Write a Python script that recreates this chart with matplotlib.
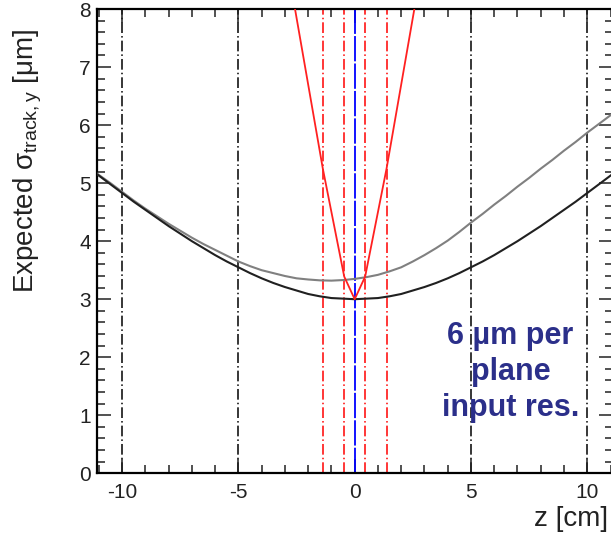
import numpy as np
import matplotlib.pyplot as plt
from matplotlib.ticker import MultipleLocator

plt.rcParams['axes.unicode_minus'] = False
plt.rcParams['mathtext.fontset'] = 'custom'
plt.rcParams['mathtext.rm'] = 'Liberation Sans'
plt.rcParams['mathtext.it'] = 'Liberation Sans'
plt.rcParams['mathtext.bf'] = 'Liberation Sans:bold'

# black curve: expected resolution
z_black = [-11.1, -10.5, -10, -9.5, -9, -8.5, -8, -7.5, -7, -6.5, -6, -5.5, -5, -4.5,
           -4, -3.5, -3, -2.5, -2, -1.5, -1, -0.5, 0, 0.5, 1, 1.5, 2, 2.5, 3, 3.5,
           4, 4.5, 5, 5.5, 6, 6.5, 7, 7.5, 8, 8.5, 9, 9.5, 10, 10.5, 11.1]
sig_black = [5.16, 4.98, 4.83, 4.68, 4.54, 4.40, 4.26, 4.13, 4.00, 3.88, 3.76, 3.65, 3.55, 3.45,
             3.36, 3.28, 3.21, 3.15, 3.09, 3.05, 3.02, 3.01, 3.00, 3.01, 3.02, 3.05, 3.09, 3.15, 3.21, 3.28,
             3.36, 3.45, 3.55, 3.65, 3.76, 3.88, 4.00, 4.13, 4.26, 4.40, 4.54, 4.68, 4.83, 4.98, 5.16]

# gray curve
z_gray = [-11.1, -10.5, -10, -9.5, -9, -8.5, -8, -7.5, -7, -6.5, -6, -5.5, -5, -4.5,
          -4, -3.5, -3, -2.5, -2, -1.5, -1, -0.5, 0, 0.5, 1, 1.5, 2, 2.5, 3, 3.5,
          4, 4.5, 5, 5.5, 6, 6.5, 7, 7.5, 8, 8.5, 9, 9.5, 10, 10.5, 11.1]
sig_gray = [5.17, 5.00, 4.85, 4.70, 4.56, 4.43, 4.30, 4.18, 4.06, 3.95, 3.85, 3.75, 3.65, 3.57,
            3.50, 3.45, 3.40, 3.36, 3.34, 3.325, 3.32, 3.33, 3.35, 3.38, 3.42, 3.48, 3.55, 3.65, 3.76, 3.88,
            4.01, 4.16, 4.32, 4.47, 4.63, 4.78, 4.94, 5.09, 5.25, 5.40, 5.56, 5.71, 5.87, 6.02, 6.20]

# red curve
z_red = [-3.0, -1.37, -0.45, 0.0, 0.45, 1.37, 3.0]
sig_red = [9.0, 5.25, 3.39, 3.00, 3.39, 5.25, 9.0]

black_lines = [-10, -5, 5, 10]
red_lines = [-1.37, -0.45, 0.45, 1.37]
blue_line = 0

fig = plt.figure(figsize=(6.11, 5.33), dpi=100)
ax = fig.add_axes([0.158, 0.112, 0.845, 0.871])

for x in black_lines:
    ax.axvline(x, color='black', lw=1.1, ls=(0, (7, 2, 1, 2)), zorder=1)
for x in red_lines:
    ax.axvline(x, color='red', lw=1.1, ls=(0, (7, 2, 1, 2)), zorder=1)
ax.axvline(blue_line, color='blue', lw=1.3, ls=(0, (14, 1.2)), zorder=2)

ax.plot(z_gray, sig_gray, color='#808080', lw=1.5, zorder=3)
ax.plot(z_black, sig_black, color='#202020', lw=1.5, zorder=3)
ax.plot(z_red, sig_red, color='#ff2020', lw=1.3, zorder=4)

ax.set_xlim(-11.1, 11.1)
ax.set_ylim(0, 8)
ax.xaxis.set_major_locator(MultipleLocator(5))
ax.xaxis.set_minor_locator(MultipleLocator(1))
ax.yaxis.set_major_locator(MultipleLocator(1))
ax.yaxis.set_minor_locator(MultipleLocator(0.2))
ax.tick_params(which='both', direction='in', top=True, right=True, width=1.1,
               labelsize=15, colors='#222222')
ax.tick_params(axis='x', which='major', length=10, pad=7)
ax.tick_params(axis='y', which='major', length=10, pad=4)
ax.tick_params(which='minor', length=6)
for s in ax.spines.values():
    s.set_linewidth(1.6)

fontname = 'Liberation Sans'
for lab in ax.get_xticklabels() + ax.get_yticklabels():
    lab.set_fontname(fontname)

fig.text(0.045, 0.945, r'Expected $\sigma_{\mathrm{track,y}}$ [$\mathrm{\mu}$m]', rotation=90,
         ha='center', va='top', fontsize=20, fontname=fontname, color='#222222')
fig.text(0.995, 0.002, 'z [cm]', ha='right', va='bottom', fontsize=20, fontname=fontname,
         color='#222222')

ax.text(6.7, 1.75, '6 \u00b5m per\nplane\ninput res.', ha='center', va='center',
        fontsize=22, fontweight='bold', color='#2b2f8a', fontname=fontname,
        linespacing=1.25)

fig.savefig('out.png', dpi=100)
